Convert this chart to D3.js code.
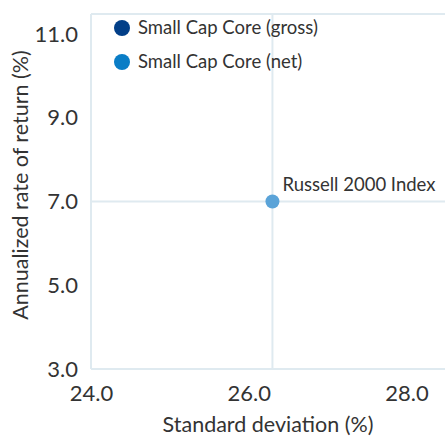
<!DOCTYPE html>
<html>
<head>
<meta charset="utf-8">
<script src="https://cdn.jsdelivr.net/npm/d3@7"></script>
<style>
  body { margin: 0; background: #fff; }
  text { font-family: Lato, "Open Sans", sans-serif; fill: #333; }
</style>
</head>
<body>
<div id="chart"></div>
<script>
// data
var seriesNames = ["Small Cap Core (gross)", "Small Cap Core (net)"];
var seriesColors = ["#023f88", "#0a7dc6"];
var pointNames = ["Russell 2000 Index"];
var pointX = [26.3];
var pointY = [7.0];
var xTicks = [24, 26, 28];
var yTicks = [3, 5, 7, 9, 11];

var width = 445, height = 437;
var margin = {top: 14, right: 0, bottom: 68, left: 91};

var svg = d3.select('#chart').append('svg')
  .attr('width', width).attr('height', height);

var x = d3.scaleLinear().domain([24, 28.5]).range([margin.left, width + 1]);
var y = d3.scaleLinear().domain([3, 11.48]).range([height - margin.bottom, margin.top]);

var grid = '#dfeaf0';

// frame
svg.append('line').attr('x1', x(24)).attr('x2', width).attr('y1', y(11.48)).attr('y2', y(11.48))
  .attr('stroke', grid).attr('stroke-width', 2);
svg.append('line').attr('x1', x(24)).attr('x2', width).attr('y1', y(3)).attr('y2', y(3))
  .attr('stroke', grid).attr('stroke-width', 2);
svg.append('line').attr('x1', x(24)).attr('x2', x(24)).attr('y1', y(3)).attr('y2', y(11.48))
  .attr('stroke', grid).attr('stroke-width', 2);

// crosshair through the index point
svg.selectAll('.vline').data(pointX).enter().append('line')
  .attr('x1', function(d){ return x(d); }).attr('x2', function(d){ return x(d); })
  .attr('y1', y(3)).attr('y2', y(11.48))
  .attr('stroke', grid).attr('stroke-width', 2);
svg.selectAll('.hline').data(pointY).enter().append('line')
  .attr('x1', x(24)).attr('x2', width)
  .attr('y1', function(d){ return y(d); }).attr('y2', function(d){ return y(d); })
  .attr('stroke', grid).attr('stroke-width', 2);

// axes (labels only)
var xAxis = svg.append('g').attr('transform', 'translate(0,' + (y(3) + 24) + ')')
  .call(d3.axisBottom(x).tickValues(xTicks).tickFormat(d3.format('.1f')).tickSize(0).tickPadding(0));
var yAxis = svg.append('g').attr('transform', 'translate(' + (x(24) - 13) + ',0)')
  .call(d3.axisLeft(y).tickValues(yTicks).tickFormat(d3.format('.1f')).tickSize(0).tickPadding(0));
[xAxis, yAxis].forEach(function(a){
  a.select('.domain').remove();
  a.selectAll('text').attr('font-size', 22).style('font-family', 'Lato')
    .style('font-variant-numeric', 'tabular-nums').attr('fill', '#333');
});
xAxis.selectAll('text').attr('dy', '0.35em');

// axis titles
svg.append('text').attr('x', 268).attr('y', 432).attr('text-anchor', 'middle')
  .attr('font-size', 21.5).text('Standard deviation (%)');
svg.append('text').attr('transform', 'translate(28,' + 185 + ') rotate(-90)')
  .attr('text-anchor', 'middle').attr('font-size', 21.5).text('Annualized rate of return (%)');

// index point
svg.selectAll('.pt').data(pointX).enter().append('circle')
  .attr('cx', function(d){ return x(d); })
  .attr('cy', function(d, i){ return y(pointY[i]); })
  .attr('r', 7).attr('fill', '#5aa3d8');
svg.selectAll('.ptlabel').data(pointNames).enter().append('text')
  .attr('x', function(d, i){ return x(pointX[i]) + 10; })
  .attr('y', function(d, i){ return y(pointY[i]) - 11; })
  .attr('font-size', 18.5).text(function(d){ return d; });

// legend
var legend = svg.selectAll('.leg').data(seriesNames).enter().append('g')
  .attr('transform', function(d, i){ return 'translate(122,' + (28 + i * 34) + ')'; });
legend.append('circle').attr('r', 8).attr('fill', function(d, i){ return seriesColors[i]; });
legend.append('text').attr('x', 16).attr('dy', '0.35em').attr('font-size', 18.5)
  .text(function(d){ return d; });
</script>
</body>
</html>
